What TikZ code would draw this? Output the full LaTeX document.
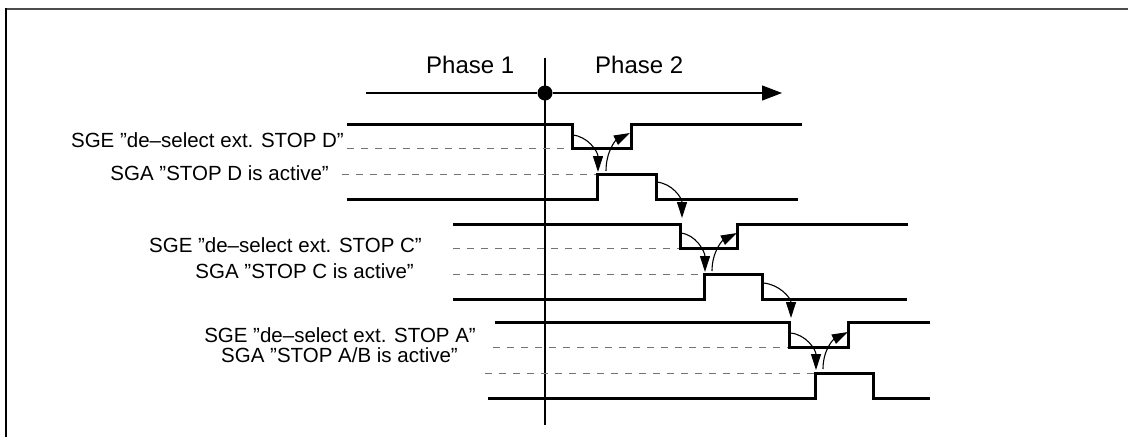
\documentclass[tikz,border=0pt]{standalone}
\usepackage{fontspec}
\setmainfont{Liberation Sans}
\usetikzlibrary{arrows.meta}

\begin{document}
\begin{tikzpicture}[x=1pt,y=-1pt,
    sig/.style={line width=3pt},
    dsh/.style={gray!90!black,line width=1pt,dash pattern=on 7pt off 7pt},
    lbl/.style={anchor=base east,inner sep=0pt,font=\fontsize{20.5}{24}\selectfont},
    phs/.style={anchor=base west,inner sep=0pt,font=\fontsize{24}{28}\selectfont},
    arr/.style={line width=1.1pt,-{Triangle[length=16pt,width=10pt]}}]
  \useasboundingbox (0,0) rectangle (1128,437);
  % Rahmen
  \draw[line width=2.4pt,black!70] (1128,9) -- (6,9);
  \draw[line width=2pt] (6,8) -- (6,437);
  % Zeitachse mit Phasen
  \coordinate (ax0) at (366,93);
  \coordinate (ax1) at (782,93);
  \coordinate (vt) at (545,58);
  \coordinate (vb) at (545,425);
  \draw[line width=1.1pt] (vt) -- (vb);
  \node[circle,fill,inner sep=0pt,minimum size=15pt] (t0) at (545,93) {};
  \draw[line width=1.1pt] (ax0) -- (t0);
  \draw[line width=1.1pt,-{Triangle[length=20pt,width=15pt]}] (t0) -- (ax1);
  \node[phs] (ph1) at (426,73) {Phase 1};
  \node[phs] (ph2) at (595,73) {Phase 2};

  % STOP D
  \node[lbl] (geD) at (344,147) {SGE ”de–select ext. STOP D”};
  \node[lbl] (gaD) at (329,180) {SGA ”STOP D is active”};
  \draw[dsh] (347,148) -- (572,148);
  \draw[dsh] (342,174) -- (597,174);
  \draw[sig] (347,124) -- (572,124) -- (572,148) -- (631,148) -- (631,124) -- (802,124);
  \draw[sig] (347,199) -- (597,199) -- (597,174) -- (656,174) -- (656,199) -- (798,199);

  % STOP C
  \node[lbl] (geC) at (422,252) {SGE ”de–select ext. STOP C”};
  \node[lbl] (gaC) at (414,278) {SGA ”STOP C is active”};
  \draw[dsh] (453,248) -- (680,248);
  \draw[dsh] (453,274) -- (704,274);
  \draw[sig] (453,224) -- (680,224) -- (680,248) -- (737,248) -- (737,224) -- (908,224);
  \draw[sig] (453,299) -- (704,299) -- (704,274) -- (762,274) -- (762,299) -- (907,299);

  % STOP A
  \node[lbl] (geA) at (476,342) {SGE ”de–select ext. STOP A”};
  \node[lbl] (gaA) at (458,362) {SGA ”STOP A/B is active”};
  \draw[dsh] (493,347) -- (789,347);
  \draw[dsh] (485,373) -- (815,373);
  \draw[sig] (495,322) -- (789,322) -- (789,347) -- (848,347) -- (848,322) -- (930,322);
  \draw[sig] (488,398) -- (815,398) -- (815,373) -- (873,373) -- (873,398) -- (930,398);

  % Wirkpfeile
  \coordinate (d1) at (572,135);  \coordinate (d2) at (598,172);
  \coordinate (d3) at (606,171);  \coordinate (d4) at (630,133);
  \coordinate (d5) at (656,182);  \coordinate (c0) at (682,218);
  \coordinate (c1) at (680,233);  \coordinate (c2) at (705,272);
  \coordinate (c3) at (712,271);  \coordinate (c4) at (737,233);
  \coordinate (c5) at (763,283);  \coordinate (a0) at (791,318);
  \coordinate (a1) at (790,333);  \coordinate (a2) at (816,370);
  \coordinate (a3) at (823,369);  \coordinate (a4) at (848,332);
  \draw[arr] (d1) .. controls +(16,1) and +(0,-20) .. (d2);
  \draw[arr] (d3) .. controls +(0,-20) and +(-14,7) .. (d4);
  \draw[arr] (d5) .. controls +(16,1) and +(0,-20) .. (c0);
  \draw[arr] (c1) .. controls +(16,1) and +(0,-20) .. (c2);
  \draw[arr] (c3) .. controls +(0,-20) and +(-14,7) .. (c4);
  \draw[arr] (c5) .. controls +(16,1) and +(0,-20) .. (a0);
  \draw[arr] (a1) .. controls +(16,1) and +(0,-20) .. (a2);
  \draw[arr] (a3) .. controls +(0,-20) and +(-14,7) .. (a4);
\end{tikzpicture}
\end{document}
